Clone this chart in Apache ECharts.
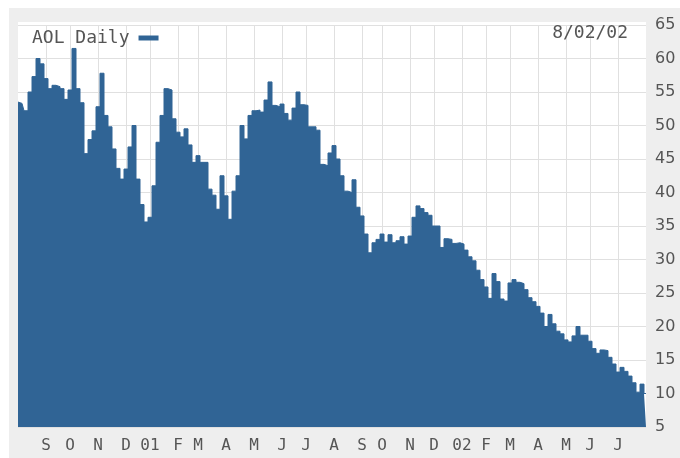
<!DOCTYPE html>
<html>
<head>
<meta charset="utf-8">
<title>AOL Daily</title>
<script src="https://cdn.jsdelivr.net/npm/echarts@6/dist/echarts.min.js"></script>
<style>
  html, body { margin: 0; padding: 0; background: #fff; }
  #panel { position: absolute; left: 9px; top: 8px; width: 671px; height: 450px; background: #eeeeee; }
  #plotBg { position: absolute; left: 18px; top: 22px; width: 628px; height: 405px; background: #fff; }
  #chart { position: absolute; left: 0; top: 0; width: 680px; height: 458px; }
</style>
</head>
<body>
<div id="panel"></div>
<div id="plotBg"></div>
<div id="chart"></div>
<script>
// closing price, one sample every ~3 trading days, Aug 2000 - Aug 2002
const priceValues = [
  53.5, 53.3, 52.2, 55, 57.3, 60, 59.2, 57, 55.5, 56,
  55.8, 55.5, 53.9, 55.3, 61.5, 55.5, 53.4, 45.8, 47.9, 49.2,
  52.8, 57.8, 51.5, 49.8, 46.5, 43.6, 42, 43.5, 46.8, 50,
  42, 38.2, 35.6, 36.3, 41, 47.5, 51.5, 55.5, 55.3, 51,
  49, 48.3, 49.5, 47.1, 44.5, 45.5, 44.5, 44.5, 40.5, 39.6,
  37.5, 42.5, 39.5, 36, 40.2, 42.5, 50, 48, 51.5, 52.2,
  52.3, 52, 53.8, 56.5, 53, 52.8, 53.2, 51.8, 50.8, 52.6,
  55, 53.1, 53, 49.8, 49.8, 49.3, 44.2, 44, 45.9, 47,
  45, 42.5, 40.2, 40, 41.9, 37.8, 36.5, 33.8, 31, 32.5,
  33, 33.8, 32.6, 33.7, 32.5, 32.8, 33.4, 32.3, 33.5, 36.3,
  38, 37.6, 37, 36.6, 35, 35, 31.8, 33.1, 33, 32.4,
  32.5, 32.3, 31.4, 30.4, 29.8, 28.4, 27, 25.9, 24.2, 27.9,
  26.7, 24.1, 23.8, 26.5, 27, 26.6, 26.4, 25.5, 24.3, 23.7,
  23, 22, 20, 21.8, 20.4, 19.3, 18.9, 18, 17.7, 18.6,
  20, 18.7, 18.7, 17.8, 16.7, 16, 16.5, 16.4, 15.4, 14.4,
  13.2, 13.9, 13.3, 12.6, 11.6, 10.2, 11.4, 10
];

// month starts: label and the sample index where the month begins
const monthLabels = ['S', 'O', 'N', 'D', '01', 'F', 'M', 'A', 'M', 'J', 'J', 'A',
                     'S', 'O', 'N', 'D', '02', 'F', 'M', 'A', 'M', 'J', 'J'];
const monthIndex = [7, 13, 20, 27, 33, 40, 45, 52, 59, 66, 72, 79,
                    86, 91, 98, 104, 111, 117, 123, 130, 137, 143, 150];

const yMin = 5, yMax = 65, yStep = 5;
const seriesName = 'AOL Daily';
const asOfDate = '8/02/02';

const categories = priceValues.map((v, i) => String(i));
const isMonthStart = (index) => monthIndex.indexOf(index) >= 0;

const monoFont = '"DejaVu Sans Mono", monospace';
const textGray = '#555';
const gridGray = '#e0e0e0';
const blue = '#306495';

const chart = echarts.init(document.getElementById('chart'), null, { renderer: 'canvas' });

chart.setOption({
  backgroundColor: 'transparent',
  animation: false,
  title: {
    text: asOfDate,
    right: 52,
    top: 24,
    padding: 0,
    textStyle: { fontFamily: monoFont, fontSize: 18, fontWeight: 'normal', color: textGray }
  },
  legend: {
    data: [seriesName],
    left: 32,
    top: 29,
    padding: 0,
    align: 'right',
    icon: 'rect',
    itemWidth: 20,
    itemHeight: 5,
    textStyle: { fontFamily: monoFont, fontSize: 18, color: textGray, padding: [0, 4, 0, 0] }
  },
  grid: { left: 18, right: 34, top: 25, bottom: 31 },
  xAxis: {
    type: 'category',
    data: categories,
    boundaryGap: false,
    axisLine: { show: false },
    axisTick: { show: false },
    axisLabel: {
      interval: (index) => isMonthStart(index),
      formatter: (value, index) => monthLabels[monthIndex.indexOf(Number(value))] || '',
      margin: 11,
      fontFamily: monoFont,
      fontSize: 16,
      color: textGray
    },
    splitLine: {
      show: true,
      interval: (index) => isMonthStart(index),
      lineStyle: { color: gridGray, width: 1 }
    }
  },
  yAxis: {
    type: 'value',
    position: 'right',
    min: yMin,
    max: yMax,
    interval: yStep,
    axisLine: { show: false },
    axisTick: { show: false },
    axisLabel: {
      margin: 9,
      fontFamily: '"DejaVu Sans", sans-serif',
      fontSize: 16,
      color: textGray
    },
    splitLine: { show: true, lineStyle: { color: gridGray, width: 1 } }
  },
  series: [
    {
      name: seriesName,
      type: 'line',
      step: 'middle',
      data: priceValues,
      showSymbol: false,
      color: blue,
      lineStyle: { color: blue, width: 1 },
      areaStyle: { color: blue, opacity: 1, origin: 'start' }
    }
  ]
});
</script>
</body>
</html>
